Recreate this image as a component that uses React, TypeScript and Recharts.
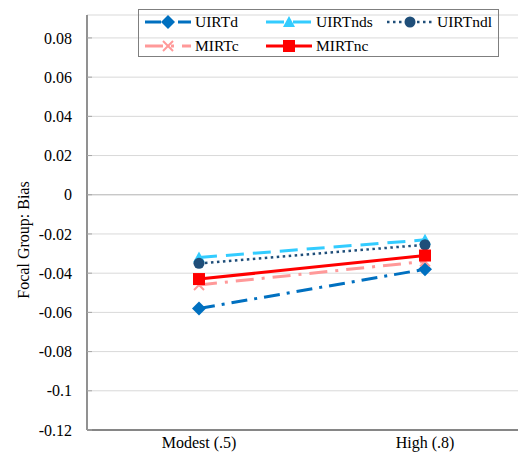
import React from 'react';
import { LineChart, Line, XAxis, YAxis, CartesianGrid, ReferenceLine } from 'recharts';

const categories = ['Modest (.5)', 'High (.8)'];
const uirtd = [-0.058, -0.038];
const uirtnds = [-0.032, -0.023];
const uirtndl = [-0.035, -0.0255];
const mirtc = [-0.046, -0.034];
const mirtnc = [-0.043, -0.031];
const yTicks = [-0.12, -0.1, -0.08, -0.06, -0.04, -0.02, 0, 0.02, 0.04, 0.06, 0.08];

const data = categories.map((c, i) => ({
  cat: c,
  UIRTd: uirtd[i],
  UIRTnds: uirtnds[i],
  UIRTndl: uirtndl[i],
  MIRTc: mirtc[i],
  MIRTnc: mirtnc[i],
}));

const FONT = '"Liberation Serif", "Times New Roman", serif';

type Kind = 'diamond' | 'triangle' | 'circle' | 'cross' | 'square';

const Marker = ({ kind, cx, cy, color }: { kind: Kind; cx: number; cy: number; color: string }) => {
  switch (kind) {
    case 'diamond':
      return <polygon points={`${cx},${cy - 7} ${cx + 7},${cy} ${cx},${cy + 7} ${cx - 7},${cy}`} fill={color} />;
    case 'triangle':
      return <polygon points={`${cx},${cy - 6} ${cx + 6},${cy + 5} ${cx - 6},${cy + 5}`} fill={color} />;
    case 'circle':
      return <circle cx={cx} cy={cy} r={5.5} fill={color} />;
    case 'cross':
      return (
        <g stroke={color} strokeWidth={2}>
          <line x1={cx - 5} y1={cy - 5} x2={cx + 5} y2={cy + 5} />
          <line x1={cx - 5} y1={cy + 5} x2={cx + 5} y2={cy - 5} />
        </g>
      );
    case 'square':
      return <rect x={cx - 6} y={cy - 6} width={12} height={12} fill={color} />;
  }
  return null;
};

const series: { key: string; color: string; dash?: string; width: number; kind: Kind }[] = [
  { key: 'UIRTd', color: '#0070C0', dash: '16 7 3 7', width: 3, kind: 'diamond' },
  { key: 'UIRTnds', color: '#33CCFF', dash: '18 9', width: 3, kind: 'triangle' },
  { key: 'UIRTndl', color: '#1F4E79', dash: '2.5 3.5', width: 2.5, kind: 'circle' },
  { key: 'MIRTc', color: '#FF9999', dash: '18 8 3 8', width: 3, kind: 'cross' },
  { key: 'MIRTnc', color: '#FF0000', width: 3, kind: 'square' },
];

const LegendItem = ({ s }: { s: (typeof series)[number] }) => (
  <div style={{ display: 'flex', alignItems: 'center', width: 121 }}>
    <svg width={46} height={16} style={{ display: 'block' }}>
      <line x1={0} y1={8} x2={46} y2={8} stroke={s.color} strokeWidth={s.width} strokeDasharray={s.dash} />
      <Marker kind={s.kind} cx={23} cy={8} color={s.color} />
    </svg>
    <span style={{ marginLeft: 4, fontFamily: FONT, fontSize: 15.5, color: '#000', lineHeight: '16px' }}>{s.key}</span>
  </div>
);

export default function App() {
  return (
    <div style={{ position: 'relative', width: 518, height: 456, overflow: 'hidden', fontFamily: FONT }}>
      <LineChart
        width={529}
        height={456}
        data={data}
        margin={{ top: 7, right: 0, bottom: 4, left: 0 }}
        style={{ fontFamily: FONT }}
      >
        <CartesianGrid vertical={false} stroke="#D9D9D9" strokeWidth={1} />
        <ReferenceLine y={0} stroke="#BFBFBF" strokeWidth={1.2} />
        <XAxis
          dataKey="cat"
          padding={{ left: 112, right: 112 }}
          axisLine={{ stroke: '#868686', strokeWidth: 1.8 }}
          tickLine={false}
          tickSize={0}
          tickMargin={7}
          height={30}
          tick={{ fill: '#000', fontFamily: FONT, fontSize: 16 }}
        />
        <YAxis
          type="number"
          domain={[-0.12, 0.0917]}
          ticks={yTicks}
          width={79}
          axisLine={{ stroke: '#868686', strokeWidth: 1.8 }}
          tickLine={{ stroke: '#A6A6A6', strokeWidth: 1 }}
          tickSize={-5}
          tickMargin={20}
          tickFormatter={(v: number) => String(Math.round(v * 100) / 100)}
          tick={{ fill: '#000', fontFamily: FONT, fontSize: 16 }}
          label={{
            content: () => (
              <text
                x={15}
                y={232}
                transform="rotate(-90 15 232)"
                textAnchor="middle"
                dominantBaseline="central"
                fontFamily={FONT}
                fontSize={16}
                fill="#000"
              >
                Focal Group: Bias
              </text>
            ),
          }}
        />
        {series.map((s) => (
          <Line
            key={s.key}
            dataKey={s.key}
            stroke={s.color}
            strokeWidth={s.width}
            strokeDasharray={s.dash}
            isAnimationActive={false}
            activeDot={false}
            dot={(p: any) => <Marker key={`${s.key}-${p.index}`} kind={s.kind} cx={p.cx} cy={p.cy} color={s.color} />}
          />
        ))}
      </LineChart>
      <div
        style={{
          position: 'absolute',
          left: 130,
          top: 1,
          width: 359,
          height: 46,
          border: '1px solid #7F7F7F',
          boxSizing: 'content-box',
        }}
      >
        <div style={{ position: 'absolute', left: 6, top: 4, display: 'flex' }}>
          <LegendItem s={series[0]} />
          <LegendItem s={series[1]} />
          <LegendItem s={series[2]} />
        </div>
        <div style={{ position: 'absolute', left: 6, top: 28, display: 'flex' }}>
          <LegendItem s={series[3]} />
          <LegendItem s={series[4]} />
        </div>
      </div>
    </div>
  );
}
